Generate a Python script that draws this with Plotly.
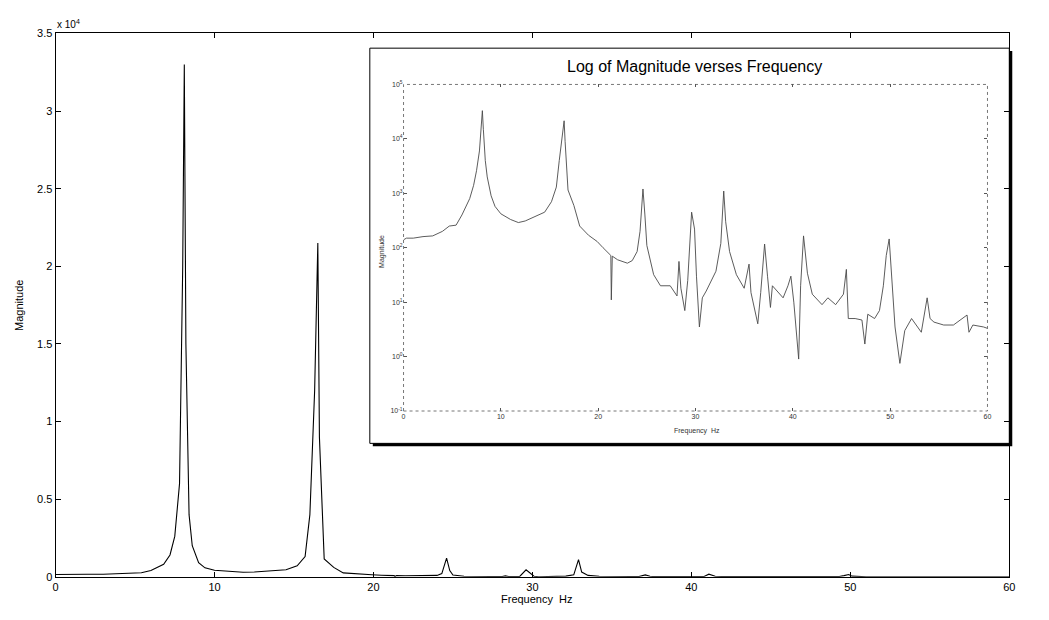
import plotly.graph_objects as go

# Spectrum (frequency in Hz, magnitude)
freq_hz = [
    0.0, 0.3, 1.0, 2.0, 3.0, 4.0, 4.7, 5.4, 6.0, 6.4, 6.8, 7.2, 7.5, 7.8, 8.0, 8.1,
    8.2, 8.4, 8.6, 9.0, 9.4, 10.0, 11.0, 11.8, 12.5, 13.5, 14.5, 15.2, 15.7, 16.0,
    16.3, 16.5, 16.6, 16.9, 17.5, 18.1, 19.0, 19.9, 20.5, 21.0, 21.3, 21.35, 21.45,
    22.0, 23.0, 23.5, 24.0, 24.3, 24.6, 24.8, 25.0, 25.7, 26.4, 27.4, 28.1, 28.3,
    28.5, 28.9, 29.2, 29.6, 29.9, 30.1, 30.4, 30.7, 31.1, 32.1, 32.6, 32.9, 33.1,
    33.5, 34.2, 35.0, 35.5, 35.7, 36.0, 36.4, 36.7, 37.1, 37.4, 37.7, 37.9, 38.5,
    39.0, 39.5, 39.8, 40.1, 40.6, 40.8, 41.1, 41.5, 42.0, 43.0, 43.6, 44.4, 45.2,
    45.5, 45.7, 46.4, 47.1, 47.4, 47.7, 48.4, 48.9, 49.3, 49.6, 49.9, 50.1, 50.5,
    51.0, 51.5, 52.2, 53.2, 53.8, 54.1, 54.5, 55.5, 56.5, 57.9, 58.1, 58.5, 59.6,
    60.0,
]
magnitude = [
    140, 150, 150, 160, 165, 200, 250, 260, 400, 575, 800, 1400, 2600, 6000, 20000, 33000,
    15000, 4000, 2000, 900, 575, 420, 330, 290, 310, 380, 450, 700, 1300, 4000,
    12000, 21500, 9000, 1150, 600, 250, 170, 130, 100, 80, 72, 11, 70,
    60, 52, 58, 85, 200, 1200, 400, 110, 32, 20, 20, 13, 56,
    18, 7, 25, 450, 220, 30, 3.5, 12, 16, 37, 120, 1100, 300,
    85, 32, 18, 50, 15, 9, 4, 15, 117, 30, 8, 20, 15,
    12, 20, 30, 10, 0.9, 20, 165, 34, 14, 9, 12, 9, 14,
    40, 5, 5, 4.7, 1.7, 6, 5, 7, 20, 72, 145, 40, 3.5,
    0.75, 3, 5, 2.8, 12, 5, 4.3, 3.8, 3.8, 5.8, 2.8, 3.8, 3.5,
    3.3,
]

main_xticks = [0, 10, 20, 30, 40, 50, 60]
main_ytick_vals = [0, 5000, 10000, 15000, 20000, 25000, 30000, 35000]
main_ytick_text = ["0", "0.5", "1", "1.5", "2", "2.5", "3", "3.5"]
inset_ytick_vals = [0.1, 1, 10, 100, 1000, 10000, 100000]
inset_ytick_text = ["10<sup>-1</sup>", "10<sup>0</sup>", "10<sup>1</sup>", "10<sup>2</sup>",
                    "10<sup>3</sup>", "10<sup>4</sup>", "10<sup>5</sup>"]

W, H = 1049, 620


def px(x):
    return x / W


def py(y):
    return 1 - y / H


FONT = "Liberation Sans, Arial, sans-serif"

fig = go.Figure()
fig.add_trace(go.Scatter(x=freq_hz, y=magnitude, mode="lines",
                         line=dict(color="black", width=1.1),
                         xaxis="x", yaxis="y", showlegend=False, hoverinfo="skip"))
fig.add_trace(go.Scatter(x=freq_hz, y=magnitude, mode="lines",
                         line=dict(color="#4a4a4a", width=0.9),
                         xaxis="x2", yaxis="y2", showlegend=False, hoverinfo="skip"))

axis_common = dict(showgrid=False, zeroline=False, ticks="inside", mirror="ticks",
                   showline=True, linecolor="black", linewidth=1, tickcolor="black")

fig.update_layout(
    width=W, height=H,
    margin=dict(l=0, r=0, t=0, b=0),
    paper_bgcolor="white", plot_bgcolor="rgba(0,0,0,0)",
    font=dict(family=FONT, color="black"),
    xaxis=dict(domain=[px(53), px(1015)], range=[0, 60], tickvals=main_xticks,
               ticklen=5, tickfont=dict(size=11), anchor="y", **axis_common),
    yaxis=dict(domain=[py(582), py(28)], range=[0, 35000], tickvals=main_ytick_vals,
               ticktext=main_ytick_text, ticklen=5, tickfont=dict(size=11),
               anchor="x", **axis_common),
    xaxis2=dict(domain=[px(404), px(993)], range=[0, 60], tickvals=main_xticks,
                showgrid=False, zeroline=False, ticks="inside", ticklen=3,
                tickcolor="#555", mirror="ticks", showline=False,
                tickfont=dict(size=7, color="#333"), anchor="y2"),
    yaxis2=dict(domain=[py(413), py(80)], type="log", range=[-1, 5],
                tickvals=inset_ytick_vals, ticktext=inset_ytick_text,
                showgrid=False, zeroline=False, ticks="inside", ticklen=3,
                tickcolor="#555", mirror="ticks", showline=False,
                tickfont=dict(size=7, color="#333"), anchor="x2"),
    shapes=[
        # inset shadow
        dict(type="rect", xref="paper", yref="paper", layer="below",
             x0=px(373), x1=px(1018), y0=py(449), y1=py(46),
             fillcolor="black", line=dict(width=0)),
        # inset panel
        dict(type="rect", xref="paper", yref="paper", layer="below",
             x0=px(370), x1=px(1015), y0=py(446), y1=py(43),
             fillcolor="white", line=dict(color="black", width=1)),
        # inset axes frame
        dict(type="rect", xref="paper", yref="paper", layer="below",
             x0=px(404), x1=px(993), y0=py(413), y1=py(80),
             fillcolor="white", line=dict(color="#777", width=1, dash="dot")),
    ],
    annotations=[
        dict(text="x 10<sup>4</sup>", xref="paper", yref="paper", x=px(52), y=py(18),
             xanchor="left", yanchor="middle", showarrow=False, font=dict(size=10)),
        dict(text="Frequency  Hz", xref="paper", yref="paper", x=px(539), y=py(605),
             xanchor="center", yanchor="middle", showarrow=False, font=dict(size=11)),
        dict(text="Magnitude", xref="paper", yref="paper", x=px(16), y=py(305),
             xanchor="center", yanchor="middle", textangle=-90, showarrow=False,
             font=dict(size=11)),
        dict(text="Log of Magnitude verses Frequency", xref="paper", yref="paper",
             x=px(697), y=py(62), xanchor="center", yanchor="middle", showarrow=False,
             font=dict(size=16)),
        dict(text="Frequency  Hz", xref="paper", yref="paper", x=px(700), y=py(433),
             xanchor="center", yanchor="middle", showarrow=False,
             font=dict(size=7, color="#333")),
        dict(text="Magnitude", xref="paper", yref="paper", x=px(382), y=py(250),
             xanchor="center", yanchor="middle", textangle=-90, showarrow=False,
             font=dict(size=7, color="#333")),
    ],
)

fig.write_html("out.html")
